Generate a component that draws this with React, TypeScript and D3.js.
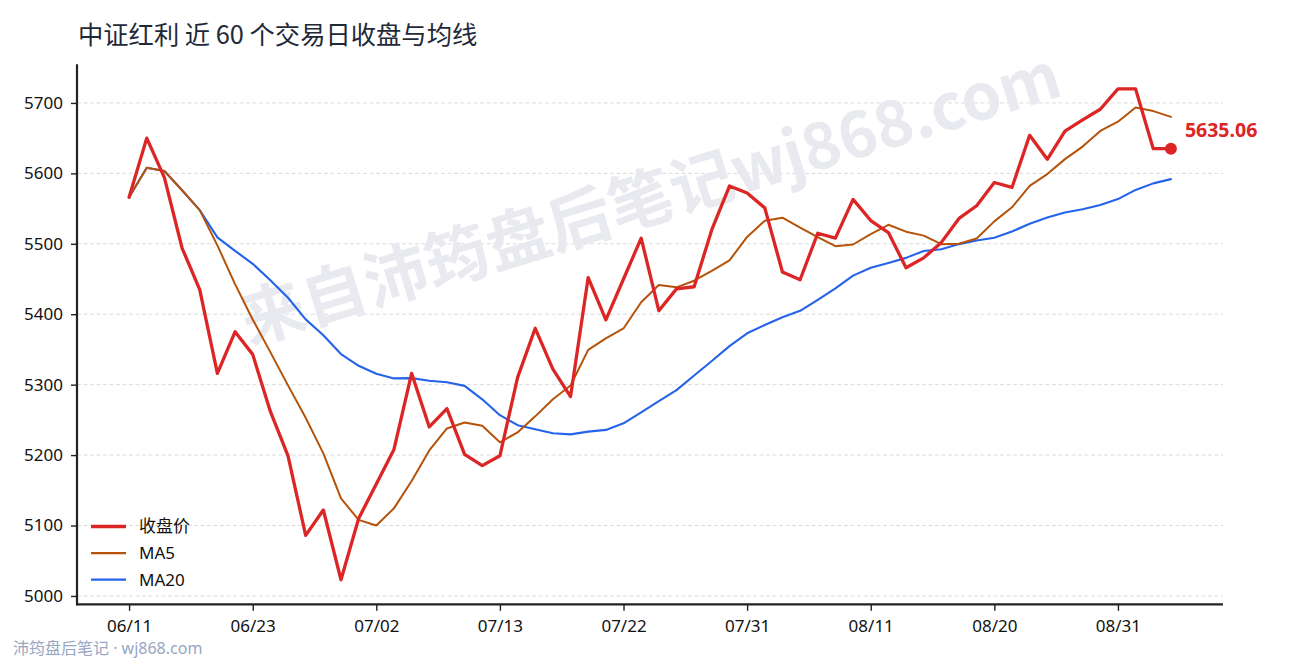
import React, { useEffect, useRef } from 'react';
import * as d3 from 'd3';

const TITLE = '中证红利 近 60 个交易日收盘与均线';
const WATERMARK = '来自沛筠盘后笔记wj868.com';
const FOOTER = '沛筠盘后笔记 · wj868.com';

const dates = [
  '06/11', '06/12', '06/13', '06/16', '06/17', '06/18', '06/20', '06/23', '06/24', '06/25',
  '06/26', '06/27', '06/30', '07/01', '07/02', '07/03', '07/04', '07/07', '07/08', '07/09',
  '07/10', '07/13', '07/14', '07/15', '07/16', '07/17', '07/18', '07/21', '07/22', '07/23',
  '07/24', '07/25', '07/28', '07/29', '07/30', '07/31', '08/01', '08/04', '08/05', '08/06',
  '08/07', '08/08', '08/11', '08/12', '08/13', '08/14', '08/15', '08/18', '08/19', '08/20',
  '08/21', '08/22', '08/25', '08/26', '08/27', '08/28', '08/31', '09/01', '09/02', '09/03',
];

const closes = [
  5566, 5650, 5594, 5494, 5435, 5316, 5375, 5343, 5262, 5199,
  5086, 5122, 5023, 5110, 5159, 5208, 5316, 5240, 5266, 5201,
  5185, 5199, 5310, 5380, 5322, 5283, 5452, 5392, 5450, 5508,
  5405, 5436, 5439, 5520, 5582, 5572, 5551, 5460, 5449, 5515,
  5508, 5563, 5533, 5516, 5466, 5480, 5502, 5536, 5554, 5587,
  5580, 5654, 5620, 5660, 5676, 5691, 5720, 5720, 5635, 5635.06,
];

const yTicks = [5000, 5100, 5200, 5300, 5400, 5500, 5600, 5700];
const xTickIndex = [0, 7, 14, 21, 28, 35, 42, 49, 56];

const seriesNames = ['收盘价', 'MA5', 'MA20'];
const seriesColors = ['#dc2626', '#b45309', '#2563eb'];
const seriesWidths = [3.3, 2, 2.1];

// moving average of the close series (expanding window before n points exist)
function movingAverage(values: number[], n: number): number[] {
  return values.map((_, i) => d3.mean(values.slice(Math.max(0, i - n + 1), i + 1)) as number);
}

const W = 1290;
const H = 660;
const FONT = '"Noto Sans", "Noto Sans CJK SC", sans-serif';
const CJK = '"Noto Sans CJK SC", "Noto Sans", sans-serif';

export default function App() {
  const ref = useRef<SVGSVGElement>(null);

  useEffect(() => {
    document.body.style.margin = '0';
    const svg = d3.select(ref.current);
    svg.selectAll('*').remove();

    const ma5 = movingAverage(closes, 5);
    const ma20 = movingAverage(closes, 20);
    const series = [closes, ma5, ma20];

    const left = 77, right = 1223, top = 64.3, bottom = 604.3;
    const n = closes.length;
    const xpad = (n - 1) * 0.05;
    const x = d3.scaleLinear().domain([-xpad, n - 1 + xpad]).range([left, right]);
    const all = closes.concat(ma5, ma20);
    const mn = d3.min(all) as number;
    const mx = d3.max(all) as number;
    const ypad = (mx - mn) * 0.05;
    const y = d3.scaleLinear().domain([mn - ypad, mx + ypad]).range([bottom, top]);

    svg.append('rect').attr('width', W).attr('height', H).attr('fill', '#ffffff');

    // title
    svg.append('text')
      .attr('x', 78).attr('y', 44)
      .attr('font-family', CJK).attr('font-size', 25.3)
      .attr('fill', '#1f2937')
      .text(TITLE);

    // grid
    svg.append('g').selectAll('line').data(yTicks).join('line')
      .attr('x1', left).attr('x2', right)
      .attr('y1', (d) => y(d)).attr('y2', (d) => y(d))
      .attr('stroke', '#dcdcdc').attr('stroke-width', 1)
      .attr('stroke-dasharray', '4,2.5');

    // watermark
    svg.append('text')
      .attr('transform', 'translate(649,193) rotate(-17)')
      .attr('text-anchor', 'middle')
      .attr('dominant-baseline', 'central')
      .attr('font-family', CJK).attr('font-weight', 700).attr('font-size', 64)
      .attr('fill', '#e8eaf0')
      .text(WATERMARK);

    // lines
    const line = d3.line<number>().x((_, i) => x(i)).y((d) => y(d));
    [2, 1, 0].forEach((k) => {
      svg.append('path')
        .datum(series[k])
        .attr('d', line)
        .attr('fill', 'none')
        .attr('stroke', seriesColors[k])
        .attr('stroke-width', seriesWidths[k])
        .attr('stroke-linejoin', 'round')
        .attr('stroke-linecap', 'round');
    });

    // last point
    const li = n - 1;
    svg.append('circle')
      .attr('cx', x(li)).attr('cy', y(closes[li])).attr('r', 6)
      .attr('fill', seriesColors[0]);
    svg.append('text')
      .attr('x', x(li) + 14).attr('y', y(closes[li]) - 12)
      .attr('font-family', FONT).attr('font-weight', 700).attr('font-size', 19.5)
      .attr('fill', seriesColors[0])
      .text(closes[li].toFixed(2));

    // axes
    const yAxis = d3.axisLeft(y).tickValues(yTicks).tickSize(6).tickSizeOuter(0).tickPadding(8)
      .tickFormat((d) => String(d));
    const gy = svg.append('g').attr('transform', `translate(${left},0)`).call(yAxis);
    const xAxis = d3.axisBottom(x).tickValues(xTickIndex).tickSize(6.5).tickSizeOuter(0).tickPadding(9)
      .tickFormat((d) => dates[d as number]);
    const gx = svg.append('g').attr('transform', `translate(0,${bottom})`).call(xAxis);
    [gx, gy].forEach((g) => {
      g.select('.domain').remove();
      g.selectAll('.tick line').attr('stroke', '#222').attr('stroke-width', 1.4);
      g.selectAll('.tick text').attr('font-family', FONT).attr('font-size', 17).attr('fill', '#111');
    });
    // spines
    svg.append('line').attr('x1', left).attr('x2', left).attr('y1', top).attr('y2', bottom + 1)
      .attr('stroke', '#222').attr('stroke-width', 2.2);
    svg.append('line').attr('x1', left - 1).attr('x2', right).attr('y1', bottom).attr('y2', bottom)
      .attr('stroke', '#222').attr('stroke-width', 2.2);

    // legend
    const lg = svg.append('g');
    seriesNames.forEach((name, k) => {
      const ly = 526.5 + k * 26.6;
      lg.append('line').attr('x1', 91).attr('x2', 126).attr('y1', ly).attr('y2', ly)
        .attr('stroke', seriesColors[k]).attr('stroke-width', seriesWidths[k] + (k === 0 ? 0.4 : 0.2));
      lg.append('text').attr('x', 139).attr('y', ly).attr('dy', '0.35em')
        .attr('font-family', FONT).attr('font-size', 17).attr('fill', '#111')
        .text(name);
    });

    // footer
    svg.append('text')
      .attr('x', 13).attr('y', 654)
      .attr('font-family', FONT).attr('font-size', 16)
      .attr('fill', '#98a6c2')
      .text(FOOTER);
  }, []);

  return (
    <div style={{ position: 'absolute', left: 0, top: 0 }}>
      <svg ref={ref} width={W} height={H} />
    </div>
  );
}
